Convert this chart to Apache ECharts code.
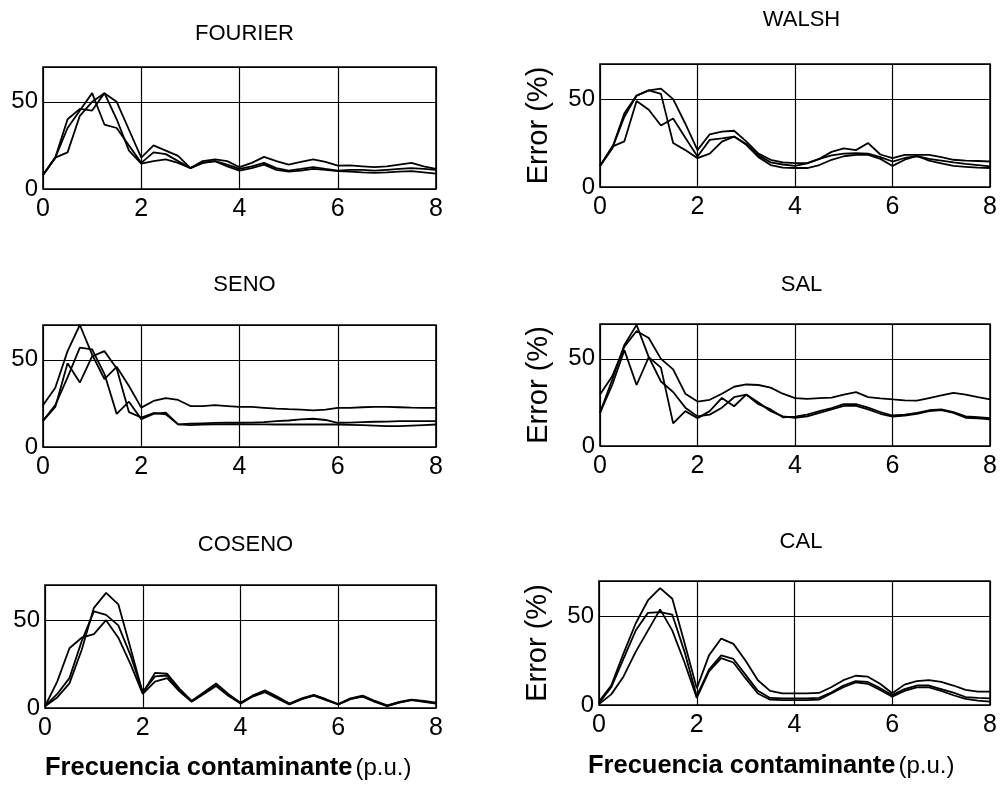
<!DOCTYPE html>
<html>
<head>
<meta charset="utf-8">
<title>Error vs frecuencia contaminante</title>
<script src="https://cdn.jsdelivr.net/npm/echarts@6/dist/echarts.min.js"></script>
<style>
  html, body { margin: 0; padding: 0; background: #fff; }
  #chart { width: 1000px; height: 790px; }
</style>
</head>
<body>
<div id="chart"></div>
<script>
// Frecuencia contaminante (p.u.), shared by every curve
const freq = [0, 0.25, 0.5, 0.75, 1, 1.25, 1.5, 1.75, 2, 2.25, 2.5, 2.75, 3, 3.25, 3.5, 3.75,
  4, 4.25, 4.5, 4.75, 5, 5.25, 5.5, 5.75, 6, 6.25, 6.5, 6.75, 7, 7.25, 7.5, 7.75, 8];

const xTicks = [0, 2, 4, 6, 8];
const yTicks = [0, 50];

// Error (%) curves for each transform (three curves per panel)
const fourierA = [8, 18, 21, 42, 50, 55, 50, 34, 18, 25, 22, 19, 12, 16, 17, 16, 12.5, 15, 18.4, 16, 14, 15.5, 17, 15.5, 13.4, 13.5, 13, 12.5, 13, 14, 15, 13, 11.5];
const fourierB = [8, 18, 35, 45, 55, 37, 35, 25, 15, 21, 20, 16, 12, 15, 16, 14, 11.5, 13, 15, 12, 10.5, 11.5, 12.6, 11.5, 10.5, 11, 11, 10.5, 11, 11.5, 12, 11.5, 11];
const fourierC = [8, 18, 40, 46, 45, 55, 40, 22, 14.6, 16, 17, 15, 12, 15, 16, 13, 10.5, 12, 14, 11, 10, 10.5, 11.5, 11, 10.2, 10, 9.5, 9.2, 9.5, 10, 10.2, 9.5, 8.8];

const walshA = [12, 22, 40, 52, 55, 56, 50, 36, 21, 30, 31.5, 32, 26, 19, 15.5, 14, 13.6, 13.6, 16, 20, 22, 21, 25, 18.5, 16.4, 18.3, 18.3, 18.3, 17, 15.5, 15, 14.8, 14.5];
const walshB = [12, 23, 26, 49, 44, 35, 39, 28, 17.4, 26.8, 27.7, 28.7, 24.5, 18, 14, 12.8, 12, 13.5, 16, 18, 19, 19.2, 19, 17, 14.5, 16.5, 17.5, 16, 15, 14, 13.2, 12.5, 11.7];
const walshC = [12, 22, 42, 52, 55, 53, 25, 21, 16.4, 19, 25.8, 28.7, 24, 17, 12.5, 11, 10.8, 10.8, 12.5, 15.5, 17.5, 18.3, 18.3, 16, 12, 15.5, 17.7, 15, 13.5, 12, 11.5, 11, 10.8];

const senoA = [24, 34, 55, 70, 53, 39, 46, 35, 22.6, 26.4, 28, 27, 23.5, 23.5, 24, 23.5, 23, 23, 22.5, 22, 21.7, 21.5, 21, 21.5, 22.4, 22.5, 22.8, 23, 23, 22.8, 22.6, 22.5, 22.4];
const senoB = [15, 24, 40, 57, 56, 42, 19, 26, 16, 19, 19.7, 13, 12.5, 12.8, 13, 13, 13, 13, 13, 12.9, 12.9, 12.9, 12.9, 12.9, 12.9, 12.7, 12.5, 12.3, 12, 12, 12.3, 12.6, 12.9];
const senoC = [15, 23, 48, 37, 52, 55, 45, 20, 16.9, 19.5, 18.8, 13, 13.4, 13.6, 13.8, 13.9, 13.9, 14, 14.3, 14.8, 15.2, 15.8, 16.2, 15.5, 13.9, 14, 14.3, 14.5, 14.6, 14.8, 14.8, 14.8, 14.8];

const salA = [19, 38, 58, 69.5, 51, 37, 31, 22, 17, 18, 22, 28, 29.5, 25, 20, 17, 16.2, 17, 19, 21, 23, 23, 21, 18.5, 16.8, 17.5, 18.5, 20, 20.6, 19, 16.2, 15.8, 15.3];
const salB = [29.5, 40, 57, 66, 62, 50, 44, 30, 25.5, 26.5, 30, 34, 35.3, 35, 33.5, 30, 27.5, 27, 27.5, 27.7, 29.5, 30.9, 28, 27.3, 26.7, 26.2, 26, 27.5, 29, 30.5, 29.5, 28, 26.7];
const salC = [19, 35, 55, 35, 51, 45, 13, 20, 16, 20, 27.6, 22.8, 29.5, 24, 21, 16.5, 16.8, 18, 20, 21.8, 24, 24, 22, 19.5, 17.5, 18, 19, 20.5, 21, 19.5, 17, 16.5, 16];

const cosenoA = [1, 6, 14, 33, 57, 65.5, 59, 34, 8.5, 20, 19.5, 11, 4, 9, 14, 8, 3, 7, 10, 6.5, 2.5, 5.5, 7.5, 5, 2.2, 5.5, 7, 4, 1.5, 3.5, 4.8, 4, 3];
const cosenoB = [1, 15, 34, 40, 42, 50, 40, 25, 8, 15, 17, 9.5, 3.5, 8, 12.5, 7, 2.5, 6.5, 9, 5.5, 2, 5, 7, 4.5, 2, 5, 6.5, 3.5, 1, 3, 4.5, 3.5, 2.5];
const cosenoC = [1, 8, 17, 38, 55, 53, 47, 30, 9, 18, 18.5, 10, 4, 8.5, 13, 7.5, 2.8, 7, 9.5, 6, 2.2, 5, 7.2, 4.8, 2, 5.2, 6.8, 3.8, 1.2, 3.2, 4.6, 3.8, 2.8];

const calA = [2, 11, 29, 46, 59, 66, 60, 35, 9.4, 28, 37.5, 34.5, 25, 14, 8, 6.6, 6.6, 6.6, 6.8, 10, 14, 16.5, 16, 12, 6.6, 11.5, 13.5, 14, 13, 11, 8.5, 7.5, 7.5];
const calB = [1, 10, 26, 42, 52, 52.4, 51, 30, 5, 20, 28, 26, 17, 8, 4, 3.7, 3.7, 3.7, 4, 7, 11, 13.5, 13, 9.5, 5.6, 9, 11, 11, 9, 7, 4.5, 4, 3.7];
const calC = [0.5, 6, 16, 30, 42, 54, 42, 24, 4, 19, 26.5, 24, 15, 6.5, 3, 2.8, 2.8, 2.8, 3, 6.5, 10, 12.8, 12, 8.5, 4.7, 8, 10, 10, 8, 5.5, 3.5, 2.5, 1.9];

const panels = [
  { title: 'FOURIER', curves: [fourierA, fourierB, fourierC], box: [43, 67, 393, 122], titleY: 18, yName: '' },
  { title: 'WALSH',   curves: [walshA, walshB, walshC],       box: [600, 64, 393, 123], titleY: 4,  yName: 'Error (%)' },
  { title: 'SENO',    curves: [senoA, senoB, senoC],          box: [43, 325, 393, 122], titleY: 269, yName: '' },
  { title: 'SAL',     curves: [salA, salB, salC],             box: [600, 324, 393, 122], titleY: 269, yName: 'Error (%)' },
  { title: 'COSENO',  curves: [cosenoA, cosenoB, cosenoC],    box: [45, 585, 391, 123], titleY: 529, yName: '' },
  { title: 'CAL',     curves: [calA, calB, calC],             box: [599, 581, 394, 124], titleY: 526, yName: 'Error (%)' }
];

const FONT = '"Liberation Sans", Arial, sans-serif';

const grid = [], xAxis = [], yAxis = [], series = [], title = [];

panels.forEach((p, i) => {
  const [left, top, width, height] = p.box;
  grid.push({
    left, top, width, height,
    show: true, borderColor: '#000', borderWidth: 1.6, backgroundColor: 'transparent'
  });
  xAxis.push({
    type: 'value', gridIndex: i, min: xTicks[0], max: xTicks[xTicks.length - 1], interval: xTicks[1] - xTicks[0],
    axisLine: { show: false }, axisTick: { show: false },
    splitLine: { show: true, lineStyle: { color: '#000', width: 1.2 } },
    axisLabel: { color: '#000', fontFamily: FONT, fontSize: 25, margin: 8 }
  });
  yAxis.push({
    type: 'value', gridIndex: i, min: 0, max: 70, interval: yTicks[1] - yTicks[0],
    axisLine: { show: false }, axisTick: { show: false },
    splitLine: { show: true, lineStyle: { color: '#000', width: 1.2 } },
    axisLabel: {
      color: '#000', fontFamily: FONT, fontSize: 24, margin: 5,
      formatter: v => (yTicks.indexOf(v) >= 0 ? String(v) : '')
    },
    name: p.yName, nameLocation: 'middle', nameGap: 47, nameRotate: 90,
    nameTextStyle: { color: '#000', fontFamily: FONT, fontSize: 29 }
  });
  p.curves.forEach(vals => {
    series.push({
      type: 'line', xAxisIndex: i, yAxisIndex: i,
      data: freq.map((f, k) => [f, vals[k]]),
      showSymbol: false, silent: true, animation: false,
      lineStyle: { color: '#000', width: 1.8 }
    });
  });
  title.push({
    text: p.title, left: left + width / 2, top: p.titleY, textAlign: 'center',
    textStyle: { color: '#000', fontFamily: FONT, fontSize: 22, fontWeight: 'normal' }
  });
});

// axis captions under the bottom row
const xCaption = { b: 'Frecuencia contaminante', n: '(p.u.)' };
[[40, 750], [583, 748]].forEach(([x, y]) => {
  title.push({
    text: '{b|' + xCaption.b + '}{n|' + xCaption.n + '}', left: x, top: y,
    textStyle: {
      rich: {
        b: { fontFamily: FONT, fontWeight: 'bold', fontSize: 25.5, color: '#000' },
        n: { fontFamily: FONT, fontWeight: 'normal', fontSize: 24, color: '#000', padding: [0, 0, 0, 3] }
      }
    }
  });
});

const chart = echarts.init(document.getElementById('chart'), null, { renderer: 'canvas' });
chart.setOption({ backgroundColor: '#fff', animation: false, title, grid, xAxis, yAxis, series });
</script>
</body>
</html>
